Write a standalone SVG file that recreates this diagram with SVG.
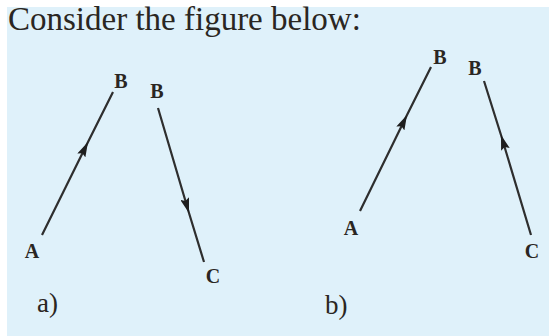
<svg xmlns="http://www.w3.org/2000/svg" width="549" height="336" viewBox="0 0 549 336">
<style>
.lbl{font-family:"Liberation Serif","Times New Roman",serif;font-size:20px;font-weight:bold;fill:#2a2622;text-anchor:middle}
.cap{font-family:"Liberation Serif","Times New Roman",serif;font-size:27px;fill:#2a2622}
.ttl{font-family:"Liberation Serif","Times New Roman",serif;font-size:33px;fill:#2a2622}
.ln{fill:none;stroke:#2e2e2e;stroke-width:2.2;marker-mid:url(#ah)}
</style>
<defs>
<marker id="ah" viewBox="0 0 15 9" refX="15" refY="4.5" markerWidth="15" markerHeight="9" markerUnits="userSpaceOnUse" orient="auto">
<path d="M0,0 L15,4.5 L0,9 L2.5,4.5 z" fill="#1e1e1e"/>
</marker>
</defs>
<rect width="549" height="336" fill="#ffffff"/>
<rect x="7" y="7" width="542" height="329" fill="#dff1fa"/>
<text class="ttl" x="8" y="30">Consider the figure below:</text>
<g id="connectors">
<path class="ln" d="M42,235 L88,142 L113,92"/>
<path class="ln" d="M158,108 L189,213 L204,262"/>
<path class="ln" d="M360,211 L407,115 L431,67"/>
<path class="ln" d="M531,235 L501,135 L484,81"/>
</g>
<g id="a-A"><text class="lbl" x="32" y="258">A</text></g>
<g id="a-B1"><text class="lbl" x="121" y="88">B</text></g>
<g id="a-B2"><text class="lbl" x="157" y="98">B</text></g>
<g id="a-C"><text class="lbl" x="213" y="283">C</text></g>
<g id="b-A"><text class="lbl" x="351" y="235">A</text></g>
<g id="b-B1"><text class="lbl" x="440" y="64">B</text></g>
<g id="b-B2"><text class="lbl" x="475" y="75">B</text></g>
<g id="b-C"><text class="lbl" x="532" y="258">C</text></g>
<text class="cap" x="37" y="312">a)</text>
<text class="cap" x="325" y="314">b)</text>
</svg>
